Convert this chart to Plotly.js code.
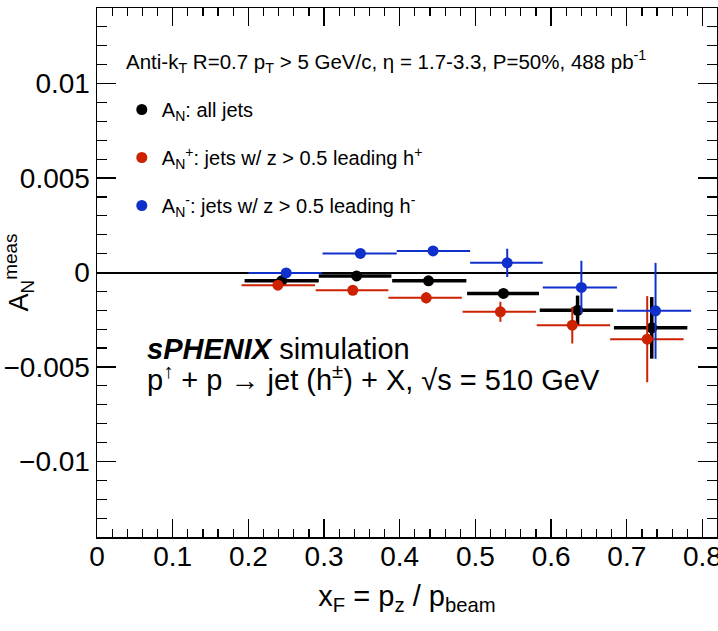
<!DOCTYPE html>
<html>
<head>
<meta charset="utf-8">
<script src="https://cdn.plot.ly/plotly-3.0.1.min.js"></script>
<style>html,body{margin:0;padding:0;background:#fff;}</style>
</head>
<body>
<div id="chart" style="width:718px;height:631px;"></div>
<script>
// ---- data ----
const blackX   = [0.244, 0.343, 0.438, 0.537, 0.635, 0.733];
const blackXLo = [0.195, 0.293, 0.390, 0.489, 0.585, 0.683];
const blackXHi = [0.293, 0.389, 0.488, 0.584, 0.682, 0.780];
const blackY   = [-0.00044, -0.00018, -0.00044, -0.00111, -0.00200, -0.00293];
const blackErr = [0.0002, 0.0002, 0.0002, 0.0002, 0.00078, 0.00163];

const redX   = [0.239, 0.338, 0.435, 0.533, 0.628, 0.727];
const redXLo = [0.191, 0.289, 0.385, 0.483, 0.581, 0.678];
const redXHi = [0.288, 0.385, 0.482, 0.580, 0.678, 0.775];
const redY   = [-0.00067, -0.00094, -0.00134, -0.00208, -0.00279, -0.00353];
const redErr = [0.0002, 0.0002, 0.0003, 0.00053, 0.00097, 0.00228];

const blueX   = [0.250, 0.348, 0.444, 0.542, 0.640, 0.738];
const blueXLo = [0.200, 0.298, 0.396, 0.493, 0.589, 0.687];
const blueXHi = [0.297, 0.396, 0.493, 0.589, 0.687, 0.785];
const blueY   = [-0.00002, 0.00101, 0.00114, 0.00051, -0.00079, -0.00203];
const blueErr = [0.0002, 0.0002, 0.0002, 0.00075, 0.00141, 0.00254];

const seriesNames = [
  'A<sub>N</sub>: all jets',
  'A<sub>N</sub><sup>+</sup>: jets w/ z &gt; 0.5 leading h<sup>+</sup>',
  'A<sub>N</sub><sup>-</sup>: jets w/ z &gt; 0.5 leading h<sup>-</sup>'
];

const xTickVals = [0, 0.1, 0.2, 0.3, 0.4, 0.5, 0.6, 0.7, 0.8];
const xTickText = ['0', '0.1', '0.2', '0.3', '0.4', '0.5', '0.6', '0.7', '0.8'];
const yTickVals = [-0.01, -0.005, 0, 0.005, 0.01];
const yTickText = ['\u22120.01', '\u22120.005', '0', '0.005', '0.01'];

const headerText = 'Anti-k<sub>T</sub> R=0.7 p<sub>T</sub> &gt; 5 GeV/c, \u03b7 = 1.7-3.3, P=50%, 488 pb<sup>-1</sup>';
const simLine1 = '<b><i>sPHENIX</i></b> simulation';
const simLine2 = 'p<sup>\u2191</sup> + p \u2192 jet (h<sup>\u00b1</sup>) + X, \u221as = 510 GeV';

// ---- build traces ----
const FONT = 'Liberation Sans, Arial, Helvetica, sans-serif';
function mk(x, lo, hi, y, err, color, thick, name, group) {
  return {
    type: 'scatter', mode: 'markers', x: x, y: y, name: name,
    legendgroup: group,
    marker: {color: color, size: 11, symbol: 'circle'},
    error_x: {type: 'data', symmetric: false,
      array: x.map((v, i) => hi[i] - v),
      arrayminus: x.map((v, i) => v - lo[i]),
      color: color, thickness: thick, width: 0},
    error_y: {type: 'data', array: err, color: color, thickness: thick, width: 0},
    cliponaxis: false
  };
}
const traces = [
  mk(blackX, blackXLo, blackXHi, blackY, blackErr, '#000000', 3.5, seriesNames[0], 'g1'),
  mk(redX, redXLo, redXHi, redY, redErr, '#cc2200', 2, seriesNames[1], 'g2'),
  mk(blueX, blueXLo, blueXHi, blueY, blueErr, '#1030cc', 2, seriesNames[2], 'g3')
];

const layout = {
  width: 718, height: 631,
  margin: {l: 97, r: 1, t: 8, b: 94},
  paper_bgcolor: '#ffffff', plot_bgcolor: '#ffffff',
  font: {family: FONT, color: '#000000'},
  showlegend: true,
  legend: {x: 0.04, xanchor: 'left', y: 0.845, yanchor: 'top',
    font: {family: FONT, size: 20, color: '#000'},
    bgcolor: 'rgba(0,0,0,0)', tracegroupgap: 19, itemclick: false},
  xaxis: {
    range: [0, 0.8192], tickmode: 'array', tickvals: xTickVals, ticktext: xTickText,
    ticks: 'inside', ticklen: 18, tickwidth: 1.2, tickcolor: '#000',
    ticklabeloverflow: 'allow', ticklabelstandoff: -6,
    minor: {dtick: 0.02, ticks: 'inside', ticklen: 8, tickwidth: 1.2, tickcolor: '#000', showgrid: false},
    showline: true, linecolor: '#000', linewidth: 1.5, mirror: 'ticks',
    showgrid: false, zeroline: false,
    tickfont: {family: FONT, size: 28, color: '#000'},
    title: {text: 'x<sub>F</sub> = p<sub>z</sub> / p<sub>beam</sub>', font: {family: FONT, size: 29, color: '#000'}, standoff: 14}
  },
  yaxis: {
    range: [-0.014, 0.014], tickmode: 'array', tickvals: yTickVals, ticktext: yTickText,
    ticks: 'inside', ticklen: 19, tickwidth: 1.2, tickcolor: '#000',
    minor: {dtick: 0.001, ticks: 'inside', ticklen: 10, tickwidth: 1.2, tickcolor: '#000', showgrid: false},
    showline: true, linecolor: '#000', linewidth: 1.5, mirror: 'ticks',
    showgrid: false, zeroline: true, zerolinecolor: '#000', zerolinewidth: 2,
    tickfont: {family: FONT, size: 28, color: '#000'},
    title: {text: 'A<sub>N</sub><sup>meas</sup>', font: {family: FONT, size: 27, color: '#000'}, standoff: 2}
  },
  annotations: [
    {xref: 'paper', yref: 'paper', x: 0.043, y: 0.898, xanchor: 'left', yanchor: 'middle',
     text: headerText, showarrow: false, font: {family: FONT, size: 20.5, color: '#000'}},
    {xref: 'paper', yref: 'paper', x: 0.078, y: 0.355, xanchor: 'left', yanchor: 'middle',
     text: simLine1, showarrow: false, font: {family: FONT, size: 29, color: '#000'}},
    {xref: 'paper', yref: 'paper', x: 0.078, y: 0.301, xanchor: 'left', yanchor: 'middle',
     text: simLine2, showarrow: false, font: {family: FONT, size: 29, color: '#000'}}
  ]
};

Plotly.newPlot('chart', traces, layout, {displayModeBar: false, staticPlot: true});
</script>
</body>
</html>
